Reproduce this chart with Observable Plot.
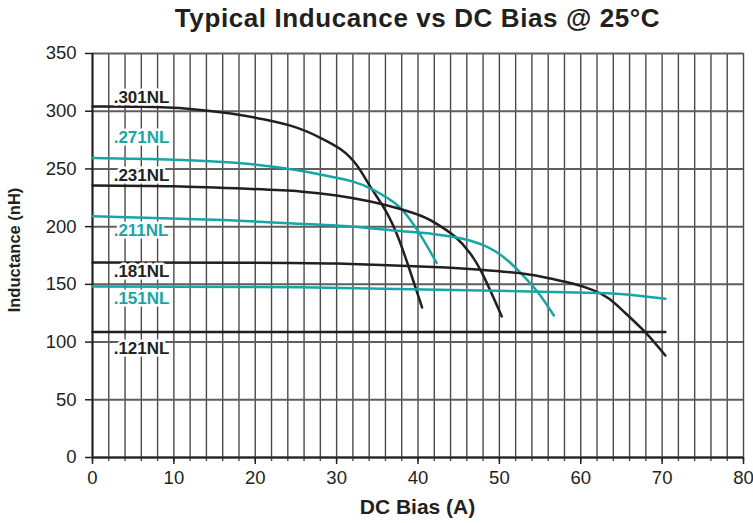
<!DOCTYPE html>
<html>
<head>
<meta charset="utf-8">
<script src="https://cdn.jsdelivr.net/npm/d3@7"></script>
<script src="https://cdn.jsdelivr.net/npm/@observablehq/plot@0.6"></script>
<style>
  html, body { margin: 0; padding: 0; background: #fff; }
  #wrap { position: relative; width: 753px; height: 523px; font-family: "Liberation Sans", Arial, Helvetica, sans-serif; color: #231f20; }
  #title { position: absolute; left: 92px; width: 651px; top: 3px; text-align: center; font-size: 26px; line-height: 30px; font-weight: bold; letter-spacing: 0.6px; }
  #xlabel { position: absolute; left: 92px; width: 651px; top: 495px; text-align: center; font-size: 21px; line-height: 24px; font-weight: bold; }
  #ylabel { position: absolute; left: 14px; top: 250px; transform: translate(-50%, -50%) rotate(-90deg); font-size: 16.5px; line-height: 20px; font-weight: bold; white-space: nowrap; }
  #chart { position: absolute; left: 0; top: 0; }
</style>
</head>
<body>
<div id="wrap">
  <div id="chart"></div>
  <div id="title">Typical Inducance vs DC Bias @ 25°C</div>
  <div id="ylabel">Inductance (nH)</div>
  <div id="xlabel">DC Bias (A)</div>
</div>
<script>
// ---- data ----
const xTicks = [0, 10, 20, 30, 40, 50, 60, 70, 80];
const yTicks = [0, 50, 100, 150, 200, 250, 300, 350];
const xMinor = d3.range(0, 81, 2);

const seriesNames = [".301NL", ".271NL", ".231NL", ".211NL", ".181NL", ".151NL", ".121NL"];
const seriesColors = ["#231f20", "#17a6a5", "#231f20", "#17a6a5", "#231f20", "#17a6a5", "#231f20"];

const x301 = [0, 6, 12, 17, 21, 25, 28, 30.5, 32.5, 34.2, 36, 37.6, 39, 40.5];
const y301 = [304, 303.8, 302, 298, 293, 286, 277, 267, 253, 234, 214, 190, 162, 130];

const x271 = [0, 10, 19, 25, 29.2, 32, 34.2, 36.2, 38, 40.1, 42.3];
const y271 = [259.5, 258, 254.5, 249, 243.5, 239, 233, 225, 215, 195, 168.5];

const x231 = [0, 10, 19, 25.5, 30, 34, 37.5, 40.5, 42.5, 44.6, 46.4, 48, 50.3];
const y231 = [235.7, 235, 232.8, 230.5, 227, 222, 216, 209, 201.5, 191, 177, 158, 122.2];

const x211 = [0, 15, 25.5, 31, 37, 42, 45.5, 48.5, 50.8, 52.8, 54.8, 56.7];
const y211 = [209, 206, 202.5, 200.5, 196.7, 193.5, 189.5, 182.5, 172, 158.5, 142.5, 123];

const x181 = [0, 20, 30, 41.9, 47.7, 53, 56.3, 59.1, 61.5, 63.5, 65.5, 68, 70.4];
const y181 = [169, 168.8, 168, 165, 162.6, 159.2, 155, 150.5, 145, 137.5, 125, 108, 88.4];

const x151 = [0, 25.5, 47.7, 62, 66, 70.4];
const y151 = [148.2, 147.6, 144.7, 142.5, 141, 137.5];

const x121 = [0, 70.4];
const y121 = [108.8, 108.8];

const labelX = [2.6, 2.6, 2.6, 2.6, 2.6, 2.6, 2.6];
const labelY = [312, 277, 244.4, 196.7, 161, 137.8, 94.5];

// ---- build tables ----
const xs = [x301, x271, x231, x211, x181, x151, x121];
const ys = [y301, y271, y231, y211, y181, y151, y121];
const curves = seriesNames.flatMap((name, i) =>
  xs[i].map((x, j) => ({name, x, y: ys[i][j], color: seriesColors[i]})));
const labels = seriesNames.map((name, i) => ({name, x: labelX[i], y: labelY[i], color: seriesColors[i]}));

const font = "Liberation Sans, Arial, Helvetica, sans-serif";

const chart = Plot.plot({
  width: 753,
  height: 523,
  marginLeft: 92,
  marginRight: 10,
  marginTop: 53,
  marginBottom: 66,
  style: {fontFamily: font, color: "#231f20", background: "white"},
  x: {domain: [0, 80]},
  y: {domain: [0, 350]},
  marks: [
    Plot.ruleX(xMinor, {x: d => d, stroke: "#4a4a4a", strokeWidth: 1.4, insetBottom: -4}),
    Plot.ruleY(yTicks, {y: d => d, stroke: "#5e5e5e", strokeWidth: 2}),
    Plot.ruleX([0], {stroke: "#231f20", strokeWidth: 2}),
    Plot.ruleY([0], {stroke: "#231f20", strokeWidth: 2}),
    Plot.axisY({ticks: yTicks, tickSize: 7, tickPadding: 9, fontSize: 18.5, label: null, stroke: "#231f20", strokeWidth: 1.5}),
    Plot.axisX({ticks: xTicks, tickSize: 7, tickPadding: 6, fontSize: 18.5, label: null, stroke: "#231f20", strokeWidth: 1.5}),
    Plot.line(curves, {x: "x", y: "y", z: "name", stroke: "color", strokeWidth: 2.5, curve: "natural"}),
    Plot.text(labels, {x: "x", y: "y", text: "name", fill: "color", textAnchor: "start", fontSize: 17, fontWeight: "bold",
      stroke: "white", strokeWidth: 5, paintOrder: "stroke"})
  ]
});
document.getElementById("chart").appendChild(chart);
</script>
</body>
</html>
